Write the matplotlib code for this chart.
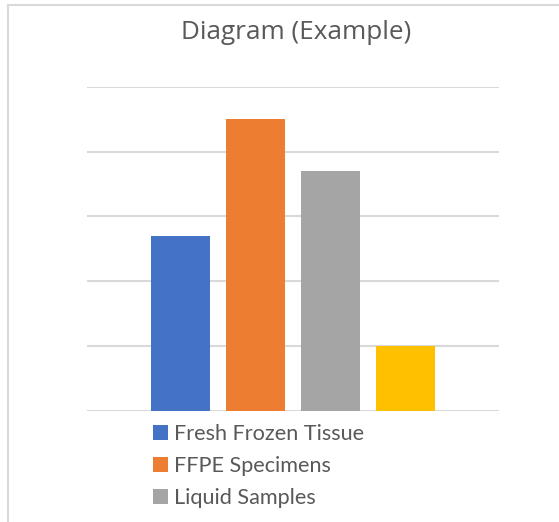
import matplotlib
matplotlib.use("Agg")
import matplotlib.pyplot as plt
from matplotlib.lines import Line2D

title = "Diagram (Example)"
series_names = ["Fresh Frozen Tissue", "FFPE Specimens", "Liquid Samples", "_nolegend_"]
values = [2.7, 4.5, 3.7, 1.0]
colors = ["#4472C4", "#ED7D31", "#A5A5A5", "#FFC000"]
y_ticks = [0, 1, 2, 3, 4, 5]

W, H = 559, 522
fig = plt.figure(figsize=(W / 100, H / 100), dpi=100)
fig.patch.set_facecolor("white")

ax = fig.add_axes([87 / W, (H - 410.6) / H, 412 / W, 323.6 / H])
ax.set_facecolor("none")

positions = list(range(len(values)))
bars = []
for i, (name, v, c) in enumerate(zip(series_names, values, colors)):
    b = ax.bar(positions[i], v, width=0.787, color=c, label=name, zorder=3)
    bars.append(b)

ax.set_xlim(-1.253, 4.253)
ax.set_ylim(0, 5)
ax.set_yticks(y_ticks)
ax.yaxis.grid(True, color="#D9D9D9", linewidth=1.5, zorder=0)
ax.set_xticks([])
ax.tick_params(left=False, labelleft=False)
for s in ax.spines.values():
    s.set_visible(False)

fig.text(296.5 / W, 1 - 39.0 / H, title, ha="center", va="baseline",
         fontsize=18.8, color="#595959", family="Open Sans")

leg = fig.legend(handles=[b for b in bars[:3]], labels=series_names[:3],
                 loc="upper left", bbox_to_anchor=(153 / W, 1 - 424 / H),
                 frameon=False, handlelength=0.68, handleheight=0.68,
                 handletextpad=0.3, labelspacing=0.55, borderpad=0,
                 borderaxespad=0,
                 prop={"family": "Lato", "size": 15.6})
for t in leg.get_texts():
    t.set_color("#595959")

# chart frame (left and top edges)
fig.add_artist(Line2D([7.5 / W, 7.5 / W], [0, 1 - 4.5 / H], transform=fig.transFigure,
                      color="#D9D9D9", linewidth=1.5))
fig.add_artist(Line2D([7.5 / W, 1], [1 - 4.5 / H, 1 - 4.5 / H], transform=fig.transFigure,
                      color="#D9D9D9", linewidth=1.5))

fig.savefig("out.png", dpi=100)
